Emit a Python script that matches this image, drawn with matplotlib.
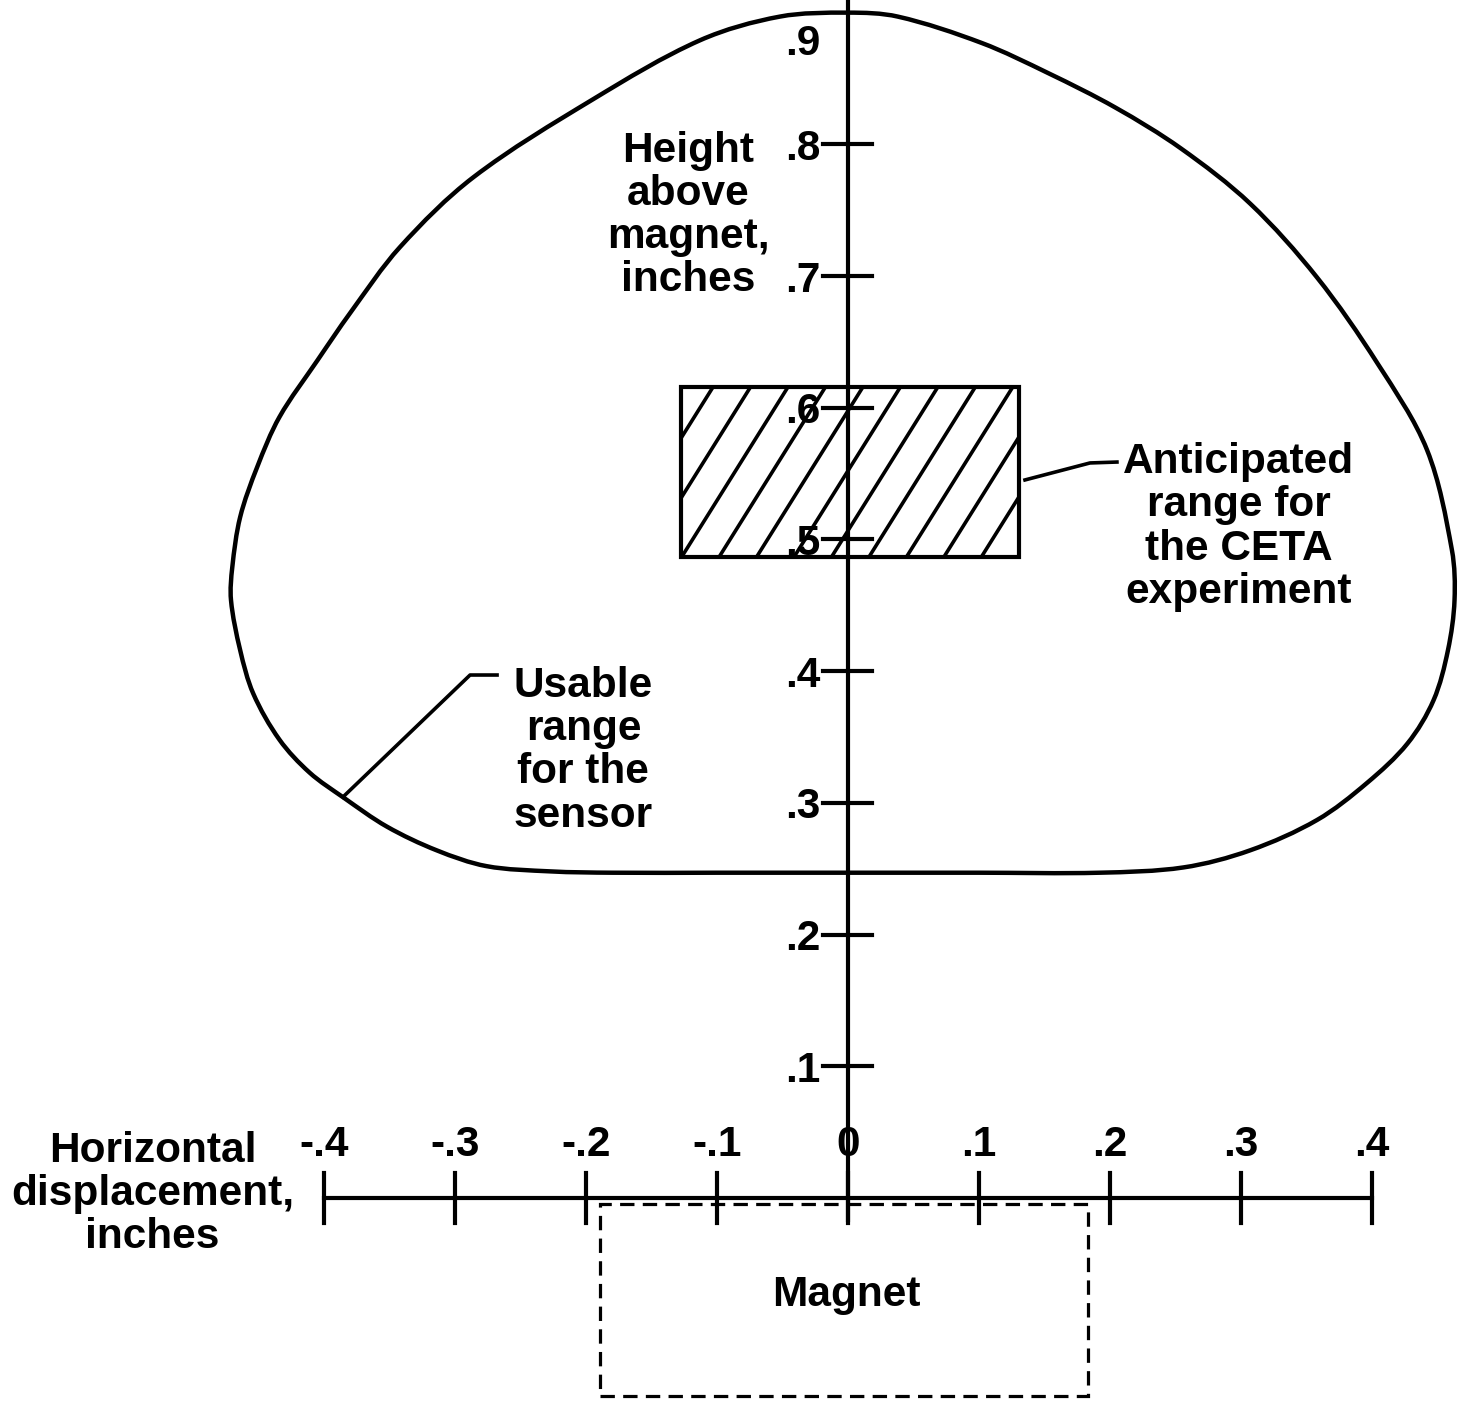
import matplotlib.pyplot as plt
import numpy as np
from matplotlib.patches import Rectangle, PathPatch
from matplotlib.path import Path

plt.rcParams['font.family'] = ['Liberation Sans', 'DejaVu Sans']
plt.rcParams['font.weight'] = 'bold'

# boundary of the usable sensor range (inches), traced clockwise from the top
usable_x = [0.0, 0.038, 0.102, 0.153, 0.204, 0.254, 0.307, 0.358, 0.404, 0.442,
            0.461, 0.463, 0.458, 0.447, 0.427, 0.396, 0.358, 0.307, 0.256, 0.192,
            0.1, 0.0, -0.1, -0.18,
            -0.227, -0.276, -0.314, -0.352, -0.385, -0.411, -0.434, -0.454, -0.464,
            -0.471, -0.470, -0.464, -0.451, -0.434, -0.405, -0.380, -0.342, -0.286,
            -0.195, -0.113, -0.052]
usable_y = [0.900, 0.897, 0.877, 0.854, 0.828, 0.797, 0.755, 0.699, 0.634, 0.568,
            0.492, 0.454, 0.416, 0.378, 0.345, 0.315, 0.287, 0.264, 0.251, 0.247,
            0.247, 0.247, 0.247, 0.247,
            0.248, 0.252, 0.264, 0.282, 0.304, 0.323, 0.348, 0.383, 0.416,
            0.454, 0.479, 0.517, 0.555, 0.593, 0.636, 0.672, 0.722, 0.775,
            0.834, 0.879, 0.897]

# anticipated range for the CETA experiment
ceta_x = (-0.1275, 0.1305)
ceta_y = (0.4867, 0.6158)

# magnet outline
magnet_x = (-0.1893, 0.1832)
magnet_y = (-0.150, -0.0046)

x_ticks = [-0.4, -0.3, -0.2, -0.1, 0.0, 0.1, 0.2, 0.3, 0.4]
x_labels = ['-.4', '-.3', '-.2', '-.1', '0', '.1', '.2', '.3', '.4']
y_ticks = [0.1, 0.2, 0.3, 0.4, 0.5, 0.6, 0.7, 0.8]
y_labels = ['.1', '.2', '.3', '.4', '.5', '.6', '.7', '.8']

fig = plt.figure(figsize=(14.71, 14.01), dpi=100)
ax = fig.add_axes([0, 0, 1, 1])
ax.set_xlim(-848 / 1310, 623 / 1310)
ax.set_ylim(-0.1541, 0.9096)
ax.axis('off')

fs = 30.5
lw = 3.0

# usable range outline: closed smooth bezier path through the traced points
pts = np.column_stack([usable_x, usable_y])
n = len(pts)
seg = np.linalg.norm(np.roll(pts, -1, axis=0) - pts, axis=1)  # length i -> i+1
tang = (np.roll(pts, -1, axis=0) - np.roll(pts, 1, axis=0)) / \
    (seg + np.roll(seg, 1))[:, None]
verts = [pts[0]]
codes = [Path.MOVETO]
for i in range(n):
    j = (i + 1) % n
    d = seg[i] / 3
    verts += [pts[i] + tang[i] * d, pts[j] - tang[j] * d, pts[j]]
    codes += [Path.CURVE4] * 3
ax.add_patch(PathPatch(Path(verts, codes), fill=False, ec='black', lw=3.2))

# hatched CETA box
box = Rectangle((ceta_x[0], ceta_y[0]), ceta_x[1] - ceta_x[0], ceta_y[1] - ceta_y[0],
                fill=False, ec='black', lw=lw, zorder=4)
ax.add_patch(box)
slope = 1.59
spacing = 0.0286
drop = (ceta_y[1] - ceta_y[0]) / slope
x0 = -0.103
while x0 - spacing > ceta_x[0]:
    x0 -= spacing
while x0 - drop < ceta_x[1] + spacing:
    xs = [x0 - drop - 0.05, x0 + 0.05]
    ys = [ceta_y[1] + slope * (v - x0) for v in xs]
    ln, = ax.plot(xs, ys, color='black', lw=2.6, zorder=3)
    ln.set_clip_path(box)
    x0 += spacing

# vertical axis
ax.plot([0, 0], [-0.0167, 0.92], color='black', lw=lw, zorder=5)
for t, lab in zip(y_ticks, y_labels):
    ax.plot([-0.019, 0.018], [t, t], color='black', lw=lw, zorder=5)
    ax.text(-0.021, t, lab, ha='right', va='center_baseline', fontsize=fs, zorder=6)
ax.annotate('.9', xy=(-0.021, 0.9), xytext=(0, -19), textcoords='offset points',
            ha='right', va='center_baseline', fontsize=fs)

# horizontal axis
ax.plot([x_ticks[0], x_ticks[-1]], [0, 0], color='black', lw=lw, zorder=5)
for t, lab in zip(x_ticks, x_labels):
    ax.plot([t, t], [-0.019, 0.019], color='black', lw=lw, zorder=5)
    ax.text(t, 0.044, lab, ha='center', va='center_baseline', fontsize=fs, zorder=6)

# magnet
ax.add_patch(Rectangle((magnet_x[0], magnet_y[0]), magnet_x[1] - magnet_x[0],
                       magnet_y[1] - magnet_y[0], fill=False, ec='black', lw=2.3,
                       linestyle=(0, (4.5, 2.6))))
ax.text(-0.0015, -0.0737, 'Magnet', ha='center', va='center', fontsize=fs)

# labels
ax.text(-0.122, 0.746, 'Height\nabove\nmagnet,\ninches', ha='center', va='center',
        multialignment='center', fontsize=fs, linespacing=1.1)
ax.text(-0.531, 0.003, 'Horizontal\ndisplacement,\ninches', ha='center', va='center',
        multialignment='center', fontsize=fs, linespacing=1.1)
ax.text(-0.202, 0.3395, 'Usable\nrange\nfor the\nsensor', ha='center', va='center',
        multialignment='center', fontsize=fs, linespacing=1.1)
ax.text(0.298, 0.5095, 'Anticipated\nrange for\nthe CETA\nexperiment', ha='center',
        va='center', multialignment='center', fontsize=fs, linespacing=1.1)

# leader lines
ax.plot([-0.3855, -0.2885, -0.2679], [0.3045, 0.3971, 0.3971], color='black', lw=2.6)
ax.plot([0.1351, 0.1847, 0.2053], [0.5452, 0.5581, 0.5588], color='black', lw=2.6)

fig.savefig('out.png', dpi=100)
